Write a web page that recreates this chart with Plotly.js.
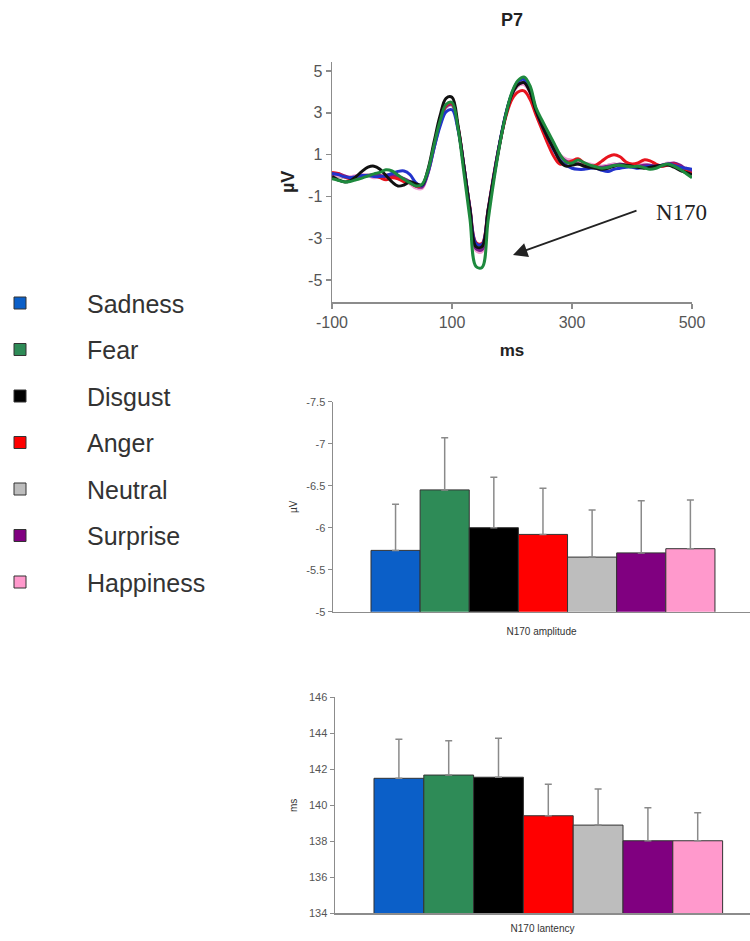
<!DOCTYPE html>
<html>
<head>
<meta charset="utf-8">
<script src="https://cdn.plot.ly/plotly-3.0.1.min.js"></script>
<style>html,body{margin:0;padding:0;background:#fff;}#chart{width:750px;height:941px;}</style>
</head>
<body>
<div id="chart"></div>
<script>
// ---------- data ----------
const categories = ['Sadness', 'Fear', 'Disgust', 'Anger', 'Neutral', 'Surprise', 'Happiness'];
const barColors  = ['#0b5fc8', '#2e8b57', '#000000', '#ff0000', '#bdbdbd', '#800080', '#ff99cc'];
const lineColors = ['#2233cc', '#1e8a3e', '#111111', '#e8141e', '#b8b8b8', '#7a1a8a', '#f2a0d2'];

// N170 amplitude (µV) and error
const amplitude = [-5.73, -6.45, -6.00, -5.92, -5.65, -5.70, -5.75];
const ampErr    = [0.55, 0.62, 0.60, 0.55, 0.56, 0.62, 0.58];
// N170 latency (ms) and error
const latency   = [141.50, 141.68, 141.56, 139.42, 138.90, 138.03, 138.03];
const latErr    = [2.17, 1.90, 2.17, 1.75, 2.00, 1.83, 1.56];

// ERP waveforms at P7 (time in ms)
const timeMs = [-100,-90,-80,-70,-60,-50,-40,-30,-20,-10,0,10,20,30,40,50,60,70,80,90,100,110,120,130,140,150,160,170,180,190,200,210,220,230,240,250,260,270,280,290,300,310,320,330,340,350,360,370,380,390,400,410,420,430,440,450,460,470,480,490,500];

const erpSadness = [0.10,0.05,-0.05,-0.10,-0.05,0.00,0.00,-0.05,-0.05,0.00,0.10,0.20,0.22,0.05,-0.35,-0.50,0.15,1.30,2.35,3.05,3.15,2.20,0.40,-1.60,-3.25,-3.30,-1.70,0.05,1.65,3.00,3.95,4.50,4.60,4.15,3.15,2.40,1.80,1.20,0.75,0.50,0.35,0.30,0.30,0.35,0.35,0.25,0.20,0.30,0.35,0.40,0.40,0.35,0.40,0.45,0.45,0.50,0.55,0.50,0.40,0.35,0.30];
const erpFear    = [-0.15,-0.22,-0.30,-0.28,-0.20,-0.12,-0.02,0.08,0.15,0.28,0.22,0.02,-0.18,-0.35,-0.50,-0.42,0.25,1.45,2.60,3.40,3.50,2.25,0.10,-2.10,-4.35,-4.40,-2.20,-0.20,1.55,2.95,4.00,4.55,4.72,4.30,3.25,2.65,2.10,1.55,1.00,0.65,0.60,0.75,0.62,0.50,0.42,0.35,0.40,0.48,0.50,0.45,0.42,0.45,0.38,0.30,0.35,0.48,0.55,0.45,0.30,0.10,-0.10];
const erpDisgust = [-0.05,-0.20,-0.30,-0.25,-0.05,0.20,0.40,0.45,0.30,0.00,-0.30,-0.50,-0.45,-0.30,-0.40,-0.45,0.30,1.60,2.85,3.70,3.75,2.40,0.40,-1.65,-3.40,-3.40,-1.70,0.00,1.60,2.95,3.90,4.35,4.45,4.00,3.10,2.40,1.80,1.25,0.70,0.45,0.50,0.55,0.45,0.40,0.35,0.30,0.35,0.45,0.50,0.50,0.45,0.40,0.35,0.40,0.45,0.50,0.50,0.40,0.25,0.15,0.05];
const erpAnger   = [0.15,0.10,-0.05,-0.15,-0.10,-0.05,0.00,0.00,-0.10,-0.20,-0.10,-0.15,-0.30,-0.35,-0.50,-0.50,0.20,1.40,2.55,3.35,3.45,2.30,0.40,-1.55,-3.20,-3.25,-1.65,0.10,1.60,2.85,3.65,4.00,4.05,3.65,2.90,2.20,1.50,0.90,0.55,0.60,0.70,0.80,0.60,0.45,0.50,0.70,0.90,1.00,0.90,0.65,0.55,0.60,0.75,0.70,0.55,0.45,0.50,0.55,0.40,0.20,0.10];
const erpNeutral = [0.00,-0.05,-0.10,-0.10,-0.05,0.00,0.05,0.05,0.00,0.00,0.05,0.00,-0.15,-0.30,-0.50,-0.55,0.10,1.30,2.45,3.25,3.35,2.30,0.45,-1.60,-3.40,-3.45,-1.75,0.00,1.60,2.90,3.85,4.30,4.40,4.00,3.15,2.50,1.95,1.45,1.00,0.75,0.65,0.60,0.55,0.50,0.45,0.45,0.50,0.55,0.50,0.50,0.45,0.50,0.50,0.45,0.40,0.45,0.50,0.50,0.45,0.35,0.25];
const erpSurprise= [0.05,0.10,0.00,-0.10,-0.10,-0.05,0.00,0.05,0.00,-0.05,0.00,-0.05,-0.15,-0.30,-0.50,-0.55,0.15,1.35,2.50,3.30,3.40,2.30,0.40,-1.65,-3.50,-3.55,-1.80,0.00,1.60,2.95,3.90,4.35,4.45,4.05,3.15,2.50,1.95,1.40,0.95,0.70,0.60,0.55,0.50,0.45,0.40,0.40,0.45,0.50,0.55,0.50,0.45,0.45,0.50,0.50,0.45,0.45,0.55,0.60,0.50,0.30,0.20];
const erpHappiness=[0.05,0.00,-0.05,-0.05,0.00,0.05,0.00,-0.10,-0.05,0.05,0.00,-0.15,-0.25,-0.40,-0.60,-0.62,0.10,1.30,2.45,3.30,3.45,2.35,0.45,-1.70,-3.60,-3.65,-1.85,-0.05,1.55,2.90,3.85,4.30,4.35,3.95,3.10,2.45,1.95,1.45,1.00,0.80,0.75,0.70,0.60,0.55,0.50,0.45,0.50,0.55,0.50,0.45,0.45,0.50,0.55,0.50,0.45,0.50,0.60,0.55,0.45,0.35,0.25];

const erpSeries = [erpSadness, erpFear, erpDisgust, erpAnger, erpNeutral, erpSurprise, erpHappiness];

// tick labels
const erpXTicks = [-100, 100, 300, 500];
const erpXText  = ['-100', '100', '300', '500'];
const erpYTicks = [-5, -3, -1, 1, 3, 5];
const erpYText  = ['-5', '-3', '-1', '1', '3', '5'];
const ampTicks  = [-7.5, -7, -6.5, -6, -5.5, -5];
const ampText   = ['-7.5', '-7', '-6.5', '-6', '-5.5', '-5'];
const latTicks  = [134, 136, 138, 140, 142, 144, 146];
const latText   = ['134', '136', '138', '140', '142', '144', '146'];

// ---------- traces ----------
const FONT = 'Liberation Sans, Arial, Helvetica, sans-serif';
const traces = [];

// ERP lines: draw order so green (Fear) ends on top
const drawOrder = [4, 6, 5, 3, 0, 2, 1];
drawOrder.forEach(i => {
  traces.push({
    type: 'scatter', mode: 'lines', x: timeMs, y: erpSeries[i],
    xaxis: 'x', yaxis: 'y', name: categories[i], showlegend: false,
    line: {color: lineColors[i], width: 3, shape: 'spline', smoothing: 1},
    hoverinfo: 'skip'
  });
});

// Amplitude bars (legend comes from these)
categories.forEach((c, i) => {
  traces.push({
    type: 'bar', x: [c], y: [amplitude[i]], xaxis: 'x2', yaxis: 'y2',
    name: c, legendgroup: c, showlegend: true,
    marker: {color: barColors[i], line: {color: '#333333', width: 1}},
    error_y: {type: 'data', symmetric: false, array: [0], arrayminus: [ampErr[i]],
              color: '#8a8a8a', thickness: 1.5, width: 3.5}
  });
});

// Latency bars
categories.forEach((c, i) => {
  traces.push({
    type: 'bar', x: [c], y: [latency[i]], xaxis: 'x3', yaxis: 'y3',
    name: c, legendgroup: c, showlegend: false,
    marker: {color: barColors[i], line: {color: '#333333', width: 1}},
    error_y: {type: 'data', symmetric: false, array: [latErr[i]], arrayminus: [0],
              color: '#8a8a8a', thickness: 1.5, width: 3.5}
  });
});

// ---------- layout ----------
const H = 941, W = 750;
const axisBase = {showgrid: false, zeroline: false, showline: true, linecolor: '#8c8c8c', linewidth: 1.5, fixedrange: true};

const layout = {
  width: W, height: H,
  margin: {l: 0, r: 0, t: 0, b: 0, autoexpand: false},
  paper_bgcolor: '#ffffff', plot_bgcolor: 'rgba(0,0,0,0)',
  font: {family: FONT, color: '#333'},
  barmode: 'overlay', bargap: 0,
  showlegend: true,
  title: {text: '<b>P7</b>', font: {family: FONT, size: 18, color: '#222'},
          x: 512 / W, xanchor: 'center', xref: 'paper', y: 1 - 20 / H, yanchor: 'middle', yref: 'paper'},
  xaxis: Object.assign({}, axisBase, {
    domain: [332 / W, 692 / W], range: [-100, 500], anchor: 'y',
    tickmode: 'array', tickvals: erpXTicks, ticktext: erpXText,
    ticks: 'outside', ticklen: 5, tickwidth: 1.5, tickcolor: '#8c8c8c',
    tickfont: {family: FONT, size: 16, color: '#555'},
    title: {text: '<b>ms</b>', font: {family: FONT, size: 17, color: '#222'}, standoff: 14}
  }),
  yaxis: Object.assign({}, axisBase, {
    domain: [1 - 302 / H, 1 - 61.7 / H], range: [-6.05, 5.45], anchor: 'x',
    tickmode: 'array', tickvals: erpYTicks, ticktext: erpYText,
    ticks: 'outside', ticklen: 5, tickwidth: 1.5, tickcolor: '#8c8c8c',
    tickfont: {family: FONT, size: 16, color: '#555'},
    title: {text: '<b>µV</b>', font: {family: FONT, size: 18, color: '#222'}, standoff: 9}
  }),
  xaxis2: Object.assign({}, axisBase, {
    domain: [333 / W, 1], range: [-1.273, 7.213], anchor: 'y2', type: 'category',
    showticklabels: false, ticks: '',
    title: {text: 'N170 amplitude', font: {family: FONT, size: 10, color: '#333'}, standoff: 16}
  }),
  yaxis2: Object.assign({}, axisBase, {
    domain: [1 - 611.7 / H, 1 - 401.7 / H], range: [-5, -7.5], anchor: 'x2',
    tickmode: 'array', tickvals: ampTicks, ticktext: ampText,
    ticks: 'outside', ticklen: 4, tickwidth: 1, tickcolor: '#8c8c8c',
    tickfont: {family: FONT, size: 11, color: '#555'},
    title: {text: 'µV', font: {family: FONT, size: 10, color: '#333'}, standoff: 7}
  }),
  xaxis3: Object.assign({}, axisBase, {
    domain: [335 / W, 1], range: [-1.283, 7.05], anchor: 'y3', type: 'category',
    showticklabels: false, ticks: '',
    title: {text: 'N170 lantency', font: {family: FONT, size: 10, color: '#333'}, standoff: 11}
  }),
  yaxis3: Object.assign({}, axisBase, {
    domain: [1 - 913.3 / H, 1 - 697.3 / H], range: [134, 146], anchor: 'x3',
    tickmode: 'array', tickvals: latTicks, ticktext: latText,
    ticks: 'outside', ticklen: 4, tickwidth: 1, tickcolor: '#8c8c8c',
    tickfont: {family: FONT, size: 11, color: '#555'},
    title: {text: 'ms', font: {family: FONT, size: 10, color: '#333'}, standoff: 9}
  }),
  legend: {
    x: -47 / W, xanchor: 'left', xref: 'paper',
    y: 1 - 280.25 / H, yanchor: 'top', yref: 'paper',
    orientation: 'v', traceorder: 'grouped', tracegroupgap: 11,
    itemwidth: 124, itemclick: false, itemdoubleclick: false,
    bgcolor: 'rgba(0,0,0,0)', borderwidth: 0,
    font: {family: FONT, size: 25, color: '#333'}
  },
  annotations: [
    {xref: 'x', yref: 'y', x: 201.7, y: -3.8, axref: 'x', ayref: 'y', ax: 410, ay: -1.65,
     text: '', showarrow: true, arrowhead: 2, arrowsize: 1.6, arrowwidth: 1.8, arrowcolor: '#222'},
    {xref: 'x', yref: 'y', x: 483.3, y: -1.79, text: 'N170', showarrow: false,
     xanchor: 'center', yanchor: 'middle',
     font: {family: 'Liberation Serif, Times New Roman, serif', size: 23, color: '#222'}}
  ]
};

Plotly.newPlot('chart', traces, layout, {staticPlot: true, displayModeBar: false});
</script>
</body>
</html>
